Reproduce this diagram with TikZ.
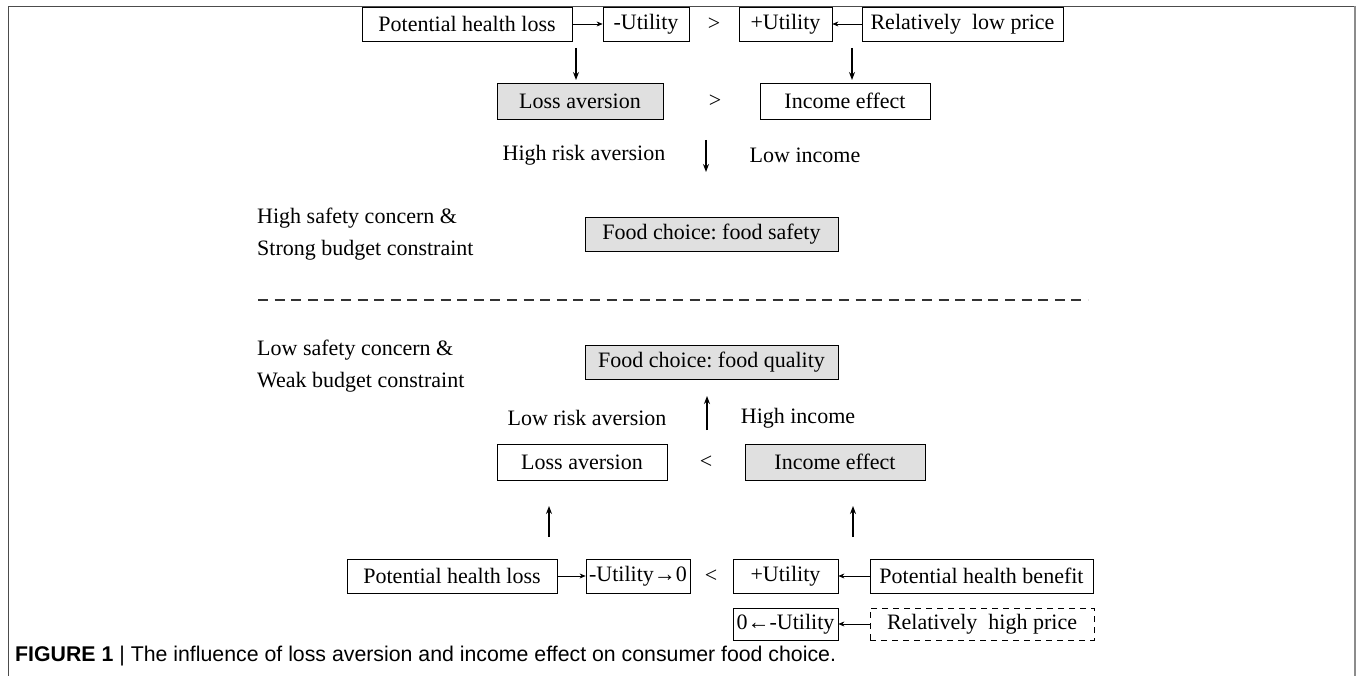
\documentclass[tikz,border=0pt]{standalone}
\usepackage{fontspec}
\setmainfont{Liberation Serif}
\newfontfamily\capfont{Liberation Sans}
\usetikzlibrary{arrows.meta}
\definecolor{boxgray}{HTML}{E0E0E0}
\begin{document}
\begin{tikzpicture}[x=1pt,y=-1pt,
  txt/.style={font=\fontsize{22}{32}\selectfont, inner sep=0pt},
  box/.style={draw, line width=0.8pt, inner sep=0pt, minimum height=34pt, txt},
  graybox/.style={box, fill=boxgray},
  dbox/.style={box, dashed, dash pattern=on 6pt off 5pt},
  link/.style={line width=0.6pt, -{Stealth[length=6pt,width=5pt]}},
  vlink/.style={line width=1.2pt, -{Stealth[length=8pt,width=6pt]}}]
\useasboundingbox (0,0) rectangle (1358,676);
% frame
\draw[line width=0.8pt, black!70] (8,676) -- (8,6) -- (1355,6);
\draw[line width=2pt, black!45] (1355,6) -- (1355,676);
% ---- top half
\node[box, minimum width=210pt] (a1) at (467,24) {Potential health loss};
\node[box, minimum width=86pt] (a2) at (646,24) {-Utility};
\node[txt] (gt1) at (714,24) {>};
\node[box, minimum width=93pt] (a3) at (785.5,24) {+Utility};
\node[box, minimum width=201pt] (a4) at (962.5,24) {Relatively\ \ low price};
\draw[link] (a1) -- (a2);
\draw[link] (a4) -- (a3);
\coordinate (d1s) at (576,48); \coordinate (d1e) at (576,80);
\coordinate (d2s) at (852,48); \coordinate (d2e) at (852,80);
\draw[vlink] (d1s) -- (d1e);
\draw[vlink] (d2s) -- (d2e);
\node[graybox, minimum width=166pt, minimum height=36pt] (la1) at (580,101) {Loss aversion};
\node[txt] (gt2) at (715,101) {>};
\node[box, minimum width=170pt, minimum height=36pt] (ie1) at (845,101) {Income effect};
\node[txt] (hra) at (584,155) {High risk aversion};
\node[txt] (li) at (805,155) {Low income};
\coordinate (d3s) at (706,140); \coordinate (d3e) at (706,172);
\draw[vlink] (d3s) -- (d3e);
\node[graybox, minimum width=253pt] (fs) at (711.5,234) {Food choice:\ food safety};
\node[txt, anchor=west, align=left] (hs) at (257,234) {High safety concern \&\\Strong budget constraint};
% divider
\coordinate (dvl) at (258,300); \coordinate (dvr) at (1088,300);
\draw[line width=1.6pt, black!80, dash pattern=on 10pt off 6.6pt] (dvl) -- (dvr);
% ---- bottom half
\node[txt, anchor=west, align=left] (ls) at (257,366) {Low safety concern \&\\Weak budget constraint};
\node[graybox, minimum width=253pt] (fq) at (711.5,362) {Food choice:\ food quality};
\node[txt] (lra) at (587,418) {Low risk aversion};
\node[txt] (hi) at (798,418) {High income};
\coordinate (u3s) at (707,430); \coordinate (u3e) at (707,396);
\draw[vlink] (u3s) -- (u3e);
\node[box, minimum width=170pt, minimum height=36pt] (la2) at (582,462) {Loss aversion};
\node[txt] (lt1) at (706,462) {<};
\node[graybox, minimum width=180pt, minimum height=36pt] (ie2) at (835,462) {Income effect};
\coordinate (u1s) at (549,537); \coordinate (u1e) at (549,506);
\coordinate (u2s) at (853,537); \coordinate (u2e) at (853,506);
\draw[vlink] (u1s) -- (u1e);
\draw[vlink] (u2s) -- (u2e);
\node[box, minimum width=210pt] (b1) at (452,576) {Potential health loss};
\node[box, minimum width=104pt] (b2) at (638,576) {-Utility→0};
\node[txt] (lt2) at (711,576) {<};
\node[box, minimum width=105pt] (b3) at (785.5,576) {+Utility};
\node[box, minimum width=223pt] (b4) at (981.5,576) {Potential health benefit};
\draw[link] (b1) -- (b2);
\draw[link] (b4) -- (b3);
\node[box, minimum width=105pt, minimum height=32pt] (c1) at (785.5,624) {0←-Utility};
\node[dbox, minimum width=224pt, minimum height=32pt] (c2) at (982,624) {Relatively\ \ high price};
\draw[link] (c2) -- (c1);
% caption
\node[anchor=west, inner sep=0pt, font=\capfont\fontsize{21.3}{24}\selectfont] (cap) at (15,656)
  {\textbf{FIGURE 1} | The influence of loss aversion and income effect on consumer food choice.};
\end{tikzpicture}
\end{document}
